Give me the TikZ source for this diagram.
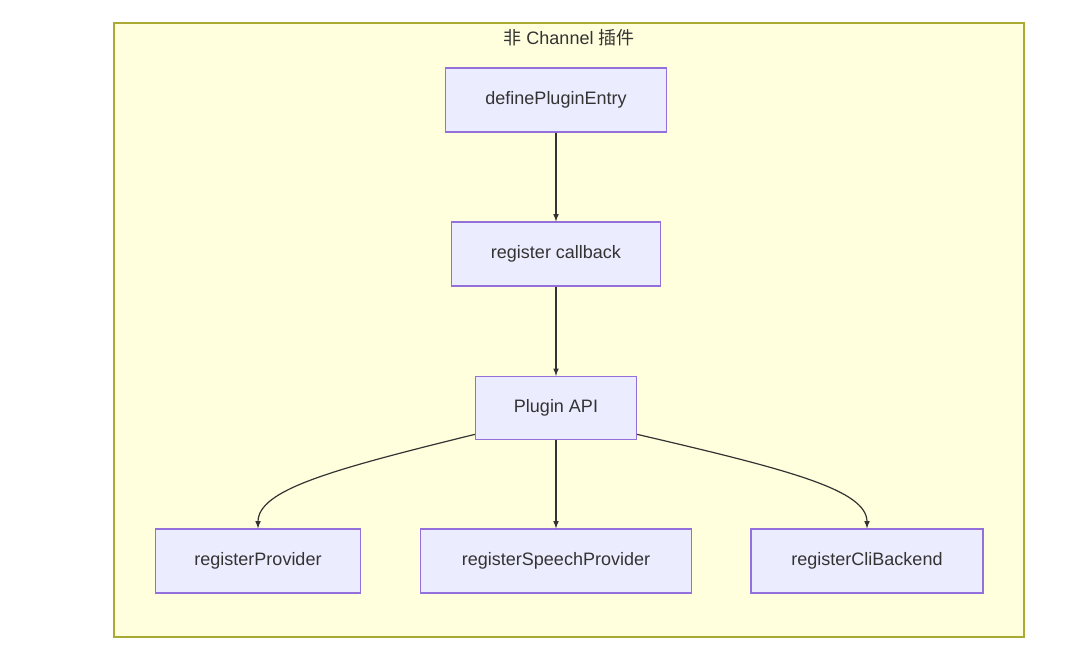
\documentclass[tikz,border=0pt]{standalone}
\usepackage{fontspec}
\setmainfont{Liberation Sans}
\newfontfamily\cjk{Noto Sans CJK SC}
\definecolor{clusterfill}{HTML}{FFFFDE}
\definecolor{clusterline}{HTML}{AAAA33}
\definecolor{boxfill}{HTML}{ECECFF}
\definecolor{boxline}{HTML}{9370DB}
\definecolor{edge}{HTML}{333333}
\tikzset{
  box/.style={draw=boxline, fill=boxfill, line width=0.8pt, inner sep=0pt,
    font=\fontsize{13.5}{16}\selectfont, text=edge},
  link/.style={->, >=latex, draw=edge, line width=0.9pt}
}
\begin{document}
\begin{tikzpicture}[x=0.75pt, y=-0.75pt]
  \useasboundingbox (0,0) rectangle (1080,651);
  \draw[fill=clusterfill, draw=clusterline, line width=0.8pt] (114,23) rectangle (1024,637);
  \node[font=\fontsize{13.5}{16}\selectfont, text=edge] (title) at (569,38) {{\cjk 非} Channel {\cjk 插件}};
  \node[box, minimum width=221*0.75pt, minimum height=64*0.75pt] (entry) at (556,100) {definePluginEntry};
  \node[box, minimum width=209*0.75pt, minimum height=64*0.75pt] (callback) at (556,254) {register callback};
  \node[box, minimum width=161*0.75pt, minimum height=63*0.75pt] (api) at (556,408) {Plugin API};
  \node[box, minimum width=205*0.75pt, minimum height=64*0.75pt] (provider) at (258,561) {registerProvider};
  \node[box, minimum width=271*0.75pt, minimum height=64*0.75pt] (speech) at (556,561) {registerSpeechProvider};
  \node[box, minimum width=232*0.75pt, minimum height=64*0.75pt] (cli) at (867,561) {registerCliBackend};
  \draw[link] (entry) -- (callback);
  \draw[link] (callback) -- (api);
  \draw[link] (api) -- (speech);
  \draw[link] (api.198) .. controls (330,470) and (258,490) .. (provider.north);
  \draw[link] (api.342) .. controls (790,470) and (867,490) .. (cli.north);
\end{tikzpicture}
\end{document}
